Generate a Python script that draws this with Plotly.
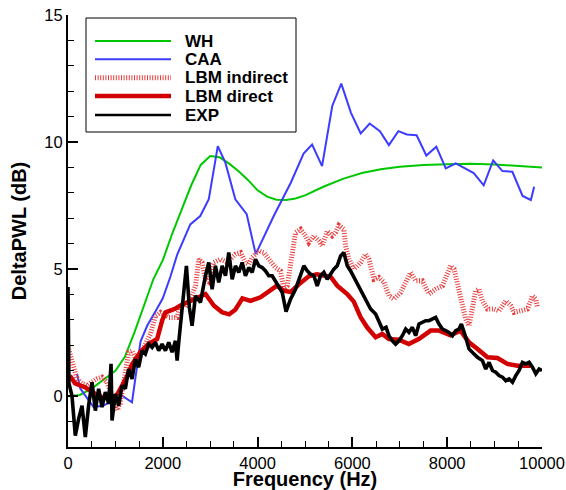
import plotly.graph_objects as go

# ---------------- data ----------------
wh_x = [0, 250, 500, 800, 1000, 1200, 1400, 1600, 1800, 2000, 2200, 2400, 2600, 2800, 3000,
        3200, 3400, 3600, 3800, 4000, 4200, 4400, 4600, 4800, 5000, 5400, 5800, 6200, 6600,
        7000, 7500, 8000, 8500, 9000, 9500, 10000]
wh_y = [0.0, 0.05, 0.3, 0.7, 1.0, 1.55, 2.5, 3.55, 4.6, 5.35, 6.4, 7.35, 8.3, 9.1, 9.45,
        9.4, 9.15, 8.85, 8.5, 8.1, 7.85, 7.73, 7.72, 7.78, 7.9, 8.25, 8.55, 8.78, 8.93,
        9.03, 9.1, 9.13, 9.15, 9.12, 9.05, 9.0]

caa_x = [190, 260, 540, 750, 1140, 1350, 1530, 1670, 1880, 2000, 2160, 2300, 2580, 2790, 2970,
         3160, 3320, 3530, 3770, 3960, 4340, 4700, 4970, 5150, 5360, 5575, 5765, 5970, 6175,
         6365, 6580, 6770, 6970, 7150, 7355, 7560, 7770, 7970, 8180, 8560, 8770, 8970, 9165,
         9375, 9590, 9765, 9835]
caa_y = [0.88, 0.3, -0.43, -0.37, 0.02, -0.24, 2.15, 2.77, 3.45, 3.85, 4.7, 5.55, 6.76, 7.09, 7.75,
         9.84, 9.19, 7.75, 7.16, 5.59, 7.09, 8.4, 9.55, 9.9, 9.05, 11.42, 12.3, 11.15, 10.34,
         10.73, 10.43, 9.88, 10.43, 10.3, 10.27, 9.47, 9.82, 8.96, 9.16, 8.78, 8.3, 9.28, 8.86,
         8.83, 7.88, 7.72, 8.24]

lbmi_x = [0, 100, 190, 300, 400, 500, 610, 720, 820, 930, 1040, 1100, 1175, 1280, 1350, 1455,
          1600, 1740, 1845, 1950, 2125, 2300, 2370, 2480, 2600, 2690, 2760, 2830, 2900, 2970,
          3005, 3077, 3217, 3358, 3533, 3640, 3745, 3815, 3885, 4025, 4130, 4236, 4378, 4483,
          4554, 4625, 4695, 4800, 4906, 5012, 5082, 5187, 5293, 5364, 5469, 5575, 5645, 5715,
          5820, 5856, 5927, 6030, 6104, 6173, 6279, 6349, 6455, 6560, 6666, 6771, 6877, 7018,
          7124, 7229, 7335, 7476, 7616, 7757, 7899, 8004, 8074, 8145, 8249, 8320, 8391, 8460,
          8532, 8602, 8672, 8743, 8849, 8989, 9094, 9236, 9341, 9411, 9553, 9694, 9799, 9869, 9905]
lbmi_y = [1.95, 1.2, 0.68, 0.5, 0.42, 0.55, 0.68, 0.75, 0.55, 0.0, -0.55, -0.3, 0.68, 1.73, 1.79, 1.33,
          1.92, 2.45, 3.16, 3.3, 3.1, 3.1, 3.56, 3.5, 3.9, 4.35, 5.39, 5.26, 4.6, 4.5,
          4.87, 5.26, 5.39, 5.26, 5.59, 5.65, 5.26, 5.19, 5.46, 5.72, 5.65, 5.39, 5.06, 4.93,
          4.21, 4.34, 5.13, 6.44, 6.57, 6.31, 6.05, 6.31, 6.11, 5.91, 6.5, 6.31, 6.44, 6.72,
          6.57, 5.91, 5.39, 5.0, 5.13, 5.26, 5.59, 5.39, 4.6, 4.67, 4.48, 3.95, 3.82, 4.08,
          4.48, 4.87, 4.54, 4.54, 4.02, 4.21, 4.34, 4.8, 5.13, 5.0, 4.08, 3.43, 3.03, 2.77,
          3.43, 4.15, 4.21, 3.75, 3.43, 3.43, 3.36, 3.75, 3.56, 3.3, 3.36, 3.43, 3.95, 3.82, 3.49]

lbmd_x = [40, 150, 260, 365, 470, 540, 650, 750, 850, 950, 1050, 1150, 1250, 1350, 1450, 1530,
          1700, 1880, 1990, 2060, 2270, 2400, 2650, 2900, 3080, 3250, 3400, 3530, 3680, 3850,
          4060, 4200, 4410, 4550, 4700, 4870, 5080, 5250, 5400, 5540, 5680, 5890, 6030, 6170,
          6310, 6490, 6630, 6770, 6980, 7190, 7400, 7650, 7830, 8070, 8280, 8460, 8640, 8850,
          9060, 9270, 9480, 9760]
lbmd_y = [0.8, 0.5, 0.42, 0.35, 0.22, 0.12, 0.0, -0.05, -0.1, -0.1, 0.1, 0.45, 0.8, 1.25, 1.55, 1.75,
          2.05, 2.25, 3.0, 3.3, 3.45, 3.6, 3.8, 4.02, 3.56, 3.3, 3.22, 3.4, 3.85, 3.75,
          3.89, 4.08, 4.35, 4.15, 4.1, 4.4, 4.72, 4.8, 4.74, 4.7, 4.35, 4.02, 3.72, 3.12,
          2.71, 2.32, 2.45, 2.25, 2.22, 2.05, 2.25, 2.58, 2.58, 2.4, 2.58, 2.12, 1.86, 1.53,
          1.5, 1.27, 1.2, 1.2]

exp_x = [0, 20, 84, 154, 224, 296, 365, 435, 507, 577, 646, 718, 788, 858, 908, 929, 999, 1069,
         1140, 1210, 1280, 1351, 1421, 1491, 1563, 1632, 1702, 1774, 1844, 1913, 1985, 2055,
         2125, 2196, 2266, 2302, 2336, 2386, 2442, 2498, 2560, 2618, 2689, 2794, 2900, 2970,
         3041, 3111, 3180, 3252, 3322, 3392, 3464, 3533, 3603, 3675, 3744, 3814, 3886, 3956,
         4025, 4097, 4167, 4236, 4308, 4378, 4448, 4520, 4600, 4695, 4800, 4906, 4976, 5047,
         5117, 5187, 5257, 5328, 5398, 5469, 5540, 5609, 5680, 5751, 5820, 5892, 5962, 6032,
         6104, 6173, 6279, 6384, 6490, 6560, 6631, 6710, 6771, 6843, 6912, 6982, 7054, 7124,
         7193, 7265, 7335, 7405, 7476, 7546, 7616, 7688, 7757, 7827, 7899, 7968, 8038, 8110,
         8180, 8249, 8300, 8391, 8460, 8566, 8638, 8743, 8813, 8883, 8955, 9024, 9094, 9166,
         9236, 9306, 9377, 9447, 9517, 9588, 9658, 9728, 9799, 9869, 9939, 10000]
exp_y = [4.3, 0.5, 0.02, -1.55, -0.89, -0.37, -1.61, -0.37, 0.55, -0.57, 0.29, -0.43, 0.16, -0.3, 1.27, -0.96, 0.09, -0.37,
         0.42, 0.29, 1.07, 0.68, 1.46, 1.14, 1.79, 1.66, 2.05, 1.92, 2.12, 1.79, 2.05, 1.79,
         2.12, 1.73, 2.18, 1.4, 2.12, 3.03, 4.08, 5.13, 3.5, 2.77, 3.95, 3.69, 4.74, 5.26,
         4.21, 5.13, 4.48, 5.13, 4.74, 5.65, 4.6, 5.13, 4.87, 5.26, 4.74, 5.06, 4.87, 5.39,
         5.13, 5.06, 4.93, 4.74, 4.74, 4.54, 4.34, 4.08, 3.33, 3.82, 4.21, 4.74, 5.13, 4.93,
         4.8, 4.74, 4.34, 4.74, 4.87, 4.6, 4.8, 5.0, 5.13, 5.52, 5.65, 5.13, 4.93, 4.67,
         4.41, 4.15, 3.75, 3.43, 3.23, 2.9, 2.64, 2.71, 2.38, 2.18, 2.05, 2.18, 2.38, 2.64,
         2.51, 2.71, 2.38, 2.84, 2.9, 2.97, 2.97, 3.03, 3.1, 2.84, 2.64, 2.58, 2.51, 2.38,
         2.58, 2.64, 2.84, 2.32, 1.86, 1.66, 1.53, 1.4, 1.07, 1.33, 1.01, 0.94, 0.81, 0.75,
         0.61, 0.68, 0.55, 0.81, 1.01, 1.33, 1.27, 1.33, 1.14, 0.88, 1.07, 1.01]

series_names = ["WH", "CAA", "LBM indirect", "LBM direct", "EXP"]
x_ticks = [0, 2000, 4000, 6000, 8000, 10000]
y_ticks = [0, 5, 10, 15]

# ---------------- styles ----------------
styles = {
    "WH": dict(color="rgb(0,200,0)", width=2, dash="solid"),
    "CAA": dict(color="rgb(60,60,255)", width=2, dash="solid"),
    "LBM indirect": dict(color="rgb(232,60,60)", width=5, dash="1px,1.6px"),
    "LBM direct": dict(color="rgb(210,0,0)", width=4.5, dash="solid"),
    "EXP": dict(color="black", width=3.6, dash="solid"),
}
legend_widths = {"WH": 2, "CAA": 2, "LBM indirect": 5, "LBM direct": 4.5, "EXP": 2.5}

FONT = "Liberation Sans, Arial, sans-serif"

fig = go.Figure()
data = {
    "WH": (wh_x, wh_y),
    "CAA": (caa_x, caa_y),
    "LBM indirect": (lbmi_x, lbmi_y),
    "LBM direct": (lbmd_x, lbmd_y),
    "EXP": (exp_x, exp_y),
}
for name in series_names:
    xs, ys = data[name]
    fig.add_trace(go.Scatter(x=xs, y=ys, mode="lines", name=name,
                             line=styles[name], showlegend=False, hoverinfo="skip"))

W, H = 566, 490
ml, mr, mt, mb = 68, 24, 15, 43
pw, ph = W - ml - mr, H - mt - mb

def px_to_paper(px, py):
    return (px - ml) / pw, (H - mb - py) / ph

# manual legend (box + samples + labels)
bx0, by0 = px_to_paper(86, 18)
bx1, by1 = px_to_paper(296, 132)
shapes = [dict(type="rect", xref="paper", yref="paper", x0=bx0, x1=bx1, y0=by1, y1=by0,
               line=dict(color="black", width=1), fillcolor="white", layer="above")]
annotations = []
rows_py = [41, 59.3, 77.7, 96, 115]
for name, rpy in zip(series_names, rows_py):
    lx0, ly = px_to_paper(95, rpy)
    lx1, _ = px_to_paper(171, rpy)
    tx, _ = px_to_paper(183, rpy)
    st = styles[name]
    shapes.append(dict(type="line", xref="paper", yref="paper", x0=lx0, x1=lx1, y0=ly, y1=ly,
                       line=dict(color=st["color"], width=legend_widths[name], dash=st["dash"]),
                       layer="above"))
    annotations.append(dict(xref="paper", yref="paper", x=tx, y=ly, text=name,
                            showarrow=False, xanchor="left", yanchor="middle",
                            font=dict(family=FONT, size=17, color="black", weight="bold")))

fig.update_layout(
    width=W, height=H,
    margin=dict(l=ml, r=mr, t=mt, b=mb, autoexpand=False),
    paper_bgcolor="white", plot_bgcolor="white",
    shapes=shapes, annotations=annotations,
    font=dict(family=FONT, size=16, color="black"),
)
fig.update_xaxes(
    range=[0, 10000], tickvals=x_ticks, ticktext=[str(v) for v in x_ticks],
    showgrid=False, zeroline=False, showline=True, linecolor="black", linewidth=2,
    ticks="inside", ticklen=10, tickwidth=2, tickcolor="black",
    minor=dict(dtick=500, ticks="inside", ticklen=6, tickwidth=1, tickcolor="black", showgrid=False),
    tickfont=dict(family=FONT, size=16.5, color="black"),
    title=dict(text="Frequency (Hz)", standoff=5,
               font=dict(family=FONT, size=20, color="black", weight="bold")),
    automargin=False,
)
fig.update_yaxes(
    range=[-2, 15], tickvals=y_ticks, ticktext=[str(v) for v in y_ticks],
    showgrid=False, zeroline=False, showline=True, linecolor="black", linewidth=2,
    ticks="inside", ticklen=10, tickwidth=2, tickcolor="black",
    minor=dict(dtick=1, ticks="inside", ticklen=6, tickwidth=1, tickcolor="black", showgrid=False),
    tickfont=dict(family=FONT, size=16.5, color="black"),
    title=dict(text="DeltaPWL (dB)", standoff=12,
               font=dict(family=FONT, size=20, color="black", weight="bold")),
    automargin=False,
)

fig.write_html("out.html",
               config={"displayModeBar": False},
               post_script="document.body.style.margin='0';document.body.style.overflow='hidden';")
